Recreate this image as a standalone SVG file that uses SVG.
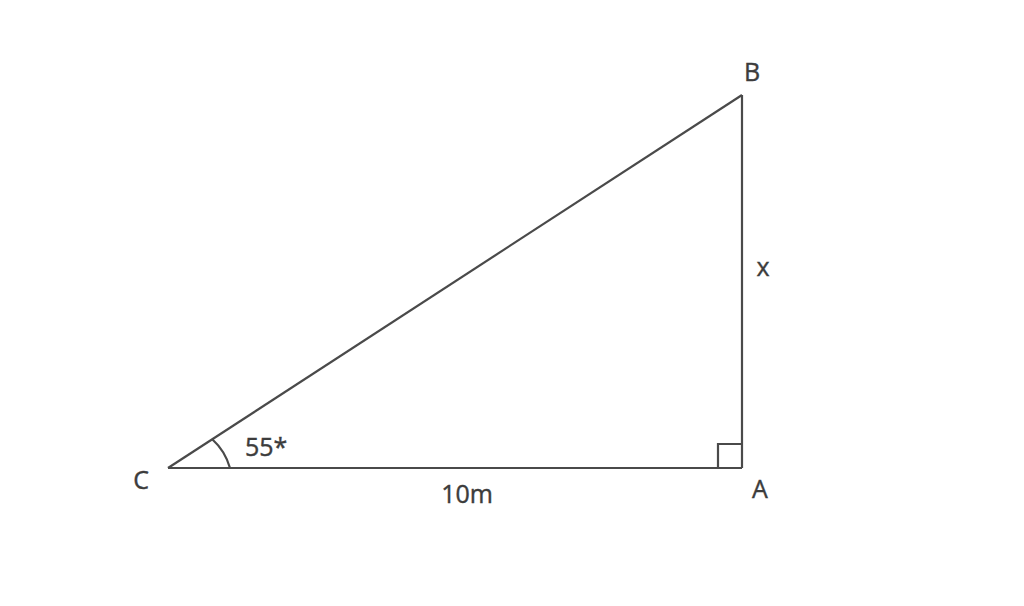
<svg xmlns="http://www.w3.org/2000/svg" width="1024" height="606" viewBox="0 0 1024 606">
<style>
.ln{stroke:#4a4a4a;stroke-width:2.2;fill:none}
.t{font-family:"Open Sans","Liberation Sans",sans-serif;font-size:25px;fill:#3c3c3c;stroke:#3c3c3c;stroke-width:0.4}
</style>
<rect width="1024" height="606" fill="#fff"/>
<g id="connectors">
<line class="ln" x1="168" y1="468" x2="742" y2="468"/>
<line class="ln" x1="742" y1="468" x2="742" y2="95"/>
<line class="ln" x1="168" y1="468" x2="742" y2="95"/>
<path class="ln" d="M230 468 A62 62 0 0 0 212 439"/>
<path class="ln" d="M718 468 V444 H742"/>
</g>
<g id="C"><text class="t" x="141" y="489" text-anchor="middle">C</text></g>
<g id="B"><text class="t" x="752" y="81" text-anchor="middle">B</text></g>
<g id="A"><text class="t" x="760" y="498" text-anchor="middle">A</text></g>
<g id="labels">
<text class="t" x="245" y="456">55*</text>
<text class="t" x="467" y="503" text-anchor="middle">10m</text>
<text class="t" x="763" y="276" text-anchor="middle">x</text>
</g>
</svg>
